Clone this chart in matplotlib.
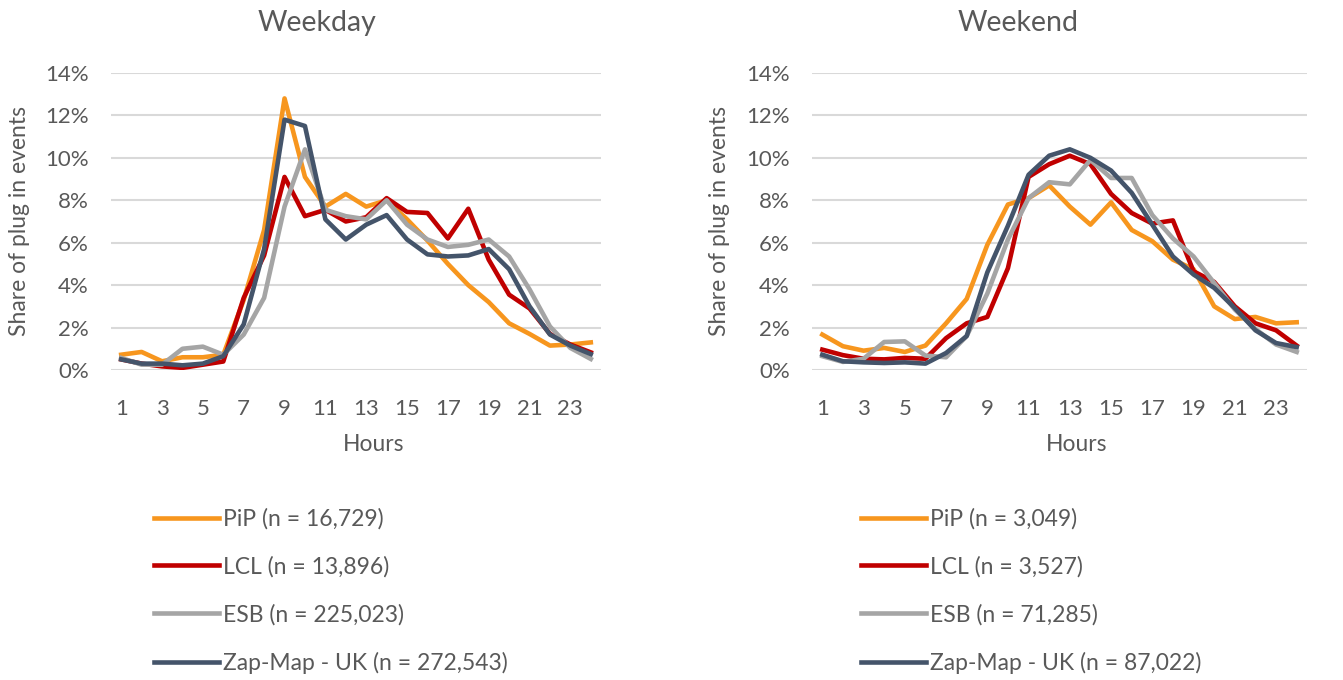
import numpy as np
import matplotlib
matplotlib.use("Agg")
import matplotlib.pyplot as plt
from matplotlib.ticker import FuncFormatter

# ---------- data (share of plug-in events, %) ----------
hours = list(range(1, 25))

weekday_pip = [0.72, 0.85, 0.41, 0.60, 0.60, 0.72, 3.3, 6.6, 12.8, 9.1, 7.7, 8.3,
               7.7, 8.0, 7.1, 6.1, 5.0, 4.0, 3.2, 2.2, 1.7, 1.15, 1.2, 1.3]
weekday_lcl = [0.50, 0.30, 0.17, 0.10, 0.25, 0.40, 3.4, 5.4, 9.1, 7.25, 7.55, 7.0,
               7.2, 8.1, 7.45, 7.4, 6.2, 7.6, 5.2, 3.55, 2.9, 1.7, 1.2, 0.83]
weekday_esb = [0.57, 0.25, 0.25, 1.0, 1.1, 0.72, 1.67, 3.4, 7.7, 10.4, 7.55, 7.25,
               7.1, 8.0, 6.85, 6.15, 5.8, 5.9, 6.15, 5.35, 3.8, 2.05, 1.04, 0.52]
weekday_zap = [0.50, 0.30, 0.30, 0.22, 0.30, 0.65, 2.15, 5.7, 11.8, 11.5, 7.1, 6.15,
               6.85, 7.3, 6.15, 5.45, 5.35, 5.4, 5.7, 4.75, 3.0, 1.67, 1.15, 0.75]

weekend_pip = [1.67, 1.12, 0.91, 1.04, 0.85, 1.15, 2.2, 3.35, 5.9, 7.8, 8.1, 8.7,
               7.7, 6.85, 7.9, 6.6, 6.07, 5.2, 4.75, 3.0, 2.4, 2.5, 2.2, 2.25]
weekend_lcl = [0.96, 0.70, 0.53, 0.50, 0.57, 0.53, 1.5, 2.2, 2.5, 4.8, 9.1, 9.7,
               10.1, 9.7, 8.3, 7.4, 6.9, 7.05, 4.65, 4.15, 3.0, 2.2, 1.87, 1.15]
weekend_esb = [0.65, 0.38, 0.53, 1.32, 1.35, 0.68, 0.6, 1.6, 3.6, 6.15, 8.1, 8.85,
               8.75, 9.9, 9.05, 9.05, 7.3, 6.2, 5.35, 4.1, 2.85, 1.93, 1.2, 0.85]
weekend_zap = [0.72, 0.41, 0.36, 0.33, 0.36, 0.30, 0.8, 1.6, 4.6, 6.8, 9.2, 10.1,
               10.4, 10.0, 9.4, 8.35, 6.85, 5.35, 4.5, 3.87, 2.92, 1.87, 1.27, 1.08]

weekday_labels = ["PiP (n = 16,729)", "LCL (n = 13,896)",
                  "ESB (n = 225,023)", "Zap-Map - UK (n = 272,543)"]
weekend_labels = ["PiP (n = 3,049)", "LCL (n = 3,527)",
                  "ESB (n = 71,285)", "Zap-Map - UK (n = 87,022)"]

colors = ["#F7961E", "#C00000", "#A5A5A5", "#44546A"]
text_col = "#595959"

plt.rcParams['font.family'] = ['Lato', 'DejaVu Sans']

fig = plt.figure(figsize=(13.43, 6.8), dpi=100)

panels = [
    ("Weekday", [weekday_pip, weekday_lcl, weekday_esb, weekday_zap], weekday_labels,
     [111 / 1343, 0.4559, 490 / 1343, 0.4368], 0.42, 143 / 1343),
    ("Weekend", [weekend_pip, weekend_lcl, weekend_esb, weekend_zap], weekend_labels,
     [812 / 1343, 0.4559, 495 / 1343, 0.4368], 0.416, 850 / 1343),
]

for title, series, labels, rect, title_x, leg_x in panels:
    ax = fig.add_axes(rect)
    for vals, lab, c in zip(series, labels, colors):
        ax.plot(hours, vals, color=c, lw=3.3, label=lab, solid_joinstyle='round')
    ax.set_xlim(0.5, 24.5)
    ax.set_ylim(0, 14)
    ax.set_xticks(range(1, 25, 2))
    ax.set_yticks(range(0, 15, 2))
    ax.yaxis.set_major_formatter(FuncFormatter(lambda v, p: f"{v:.0f}%"))
    ax.grid(axis='y', color='#D9D9D9', lw=1.5)
    ax.set_axisbelow(True)
    for s in ax.spines.values():
        s.set_visible(False)
    ax.tick_params(length=0, labelsize=16, colors=text_col)
    ax.tick_params(axis='x', pad=21)
    ax.tick_params(axis='y', pad=16)
    ax.set_title(title, x=title_x, y=1.0, pad=30, fontsize=20.5, color=text_col)
    ax.set_xlabel("Hours", fontsize=16.5, color=text_col)
    ax.xaxis.set_label_coords(0.535, -0.215)
    ax.set_ylabel("Share of plug in events", fontsize=16.5, color=text_col)
    ax.yaxis.set_label_coords(-0.166, 0.5)
    ax.legend(loc='center left', bbox_to_anchor=(leg_x, 0.131),
              bbox_transform=fig.transFigure, frameon=False, fontsize=16.5,
              labelcolor=text_col, borderpad=0, handlelength=2.8,
              handletextpad=0.2, labelspacing=1.15)

fig.savefig("out.png", dpi=100)
